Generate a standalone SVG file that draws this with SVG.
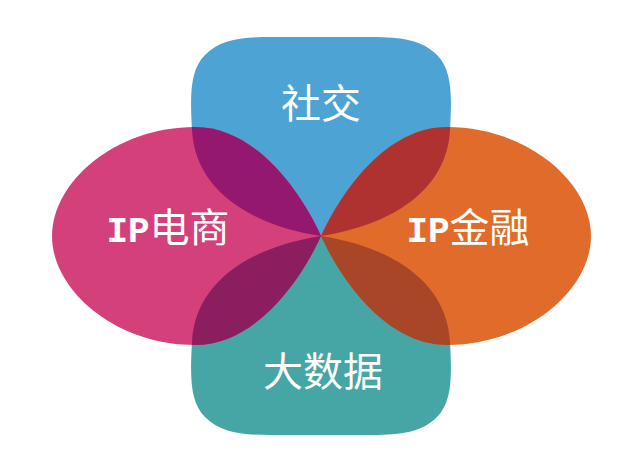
<svg xmlns="http://www.w3.org/2000/svg" width="640" height="473" viewBox="0 0 640 473">
<style>
.lbl{font-family:"Noto Sans CJK SC",sans-serif;font-size:40px;fill:#ffffff;text-anchor:middle}
.lat{font-family:"Liberation Mono",monospace;font-size:36px;font-weight:bold}
</style>
<defs>
<path id="pBlue" d="M321,236 C250,225 195,190 192,130 C190,95 190,70 205,55 C220,40 240,37 270,37 L372,37 C402,37 422,40 437,55 C452,70 452,95 450,130 C447,190 392,225 321,236 Z"/>
<path id="pTeal" d="M321,236 C250,247 195,282 192,342 C190,377 190,402 205,417 C220,432 240,435 270,435 L372,435 C402,435 422,432 437,417 C452,402 452,377 450,342 C447,282 392,247 321,236 Z"/>
<path id="pPink" d="M321,236 C300,190 255,127 195,127 C115,127 52,182 52,236 C52,290 115,345 195,345 C255,345 300,282 321,236 Z"/>
<path id="pOrange" d="M321,236 C342,190 387,127 447,127 C527,127 591,182 591,236 C591,290 527,345 447,345 C387,345 342,282 321,236 Z"/>
<clipPath id="cBlue"><use href="#pBlue"/></clipPath>
<clipPath id="cTeal"><use href="#pTeal"/></clipPath>
</defs>
<rect width="640" height="473" fill="#ffffff"/>
<g id="node-shejiao"><use href="#pBlue" fill="#4CA3D4"/></g>
<g id="node-dashuju"><use href="#pTeal" fill="#46A6A5"/></g>
<g id="node-dianshang"><use href="#pPink" fill="#D4417A"/></g>
<g id="node-jinrong"><use href="#pOrange" fill="#E06B2A"/></g>
<g id="overlaps">
<use href="#pPink" fill="#95186F" clip-path="url(#cBlue)"/>
<use href="#pOrange" fill="#B03230" clip-path="url(#cBlue)"/>
<use href="#pPink" fill="#8A1E5E" clip-path="url(#cTeal)"/>
<use href="#pOrange" fill="#A94628" clip-path="url(#cTeal)"/>
</g>
<g id="labels">
<text class="lbl" x="168" y="242"><tspan class="lat">IP</tspan>电商</text>
<text class="lbl" x="321" y="118">社交</text>
<text class="lbl" x="468" y="242"><tspan class="lat">IP</tspan>金融</text>
<text class="lbl" x="323" y="386">大数据</text>
</g>
</svg>
